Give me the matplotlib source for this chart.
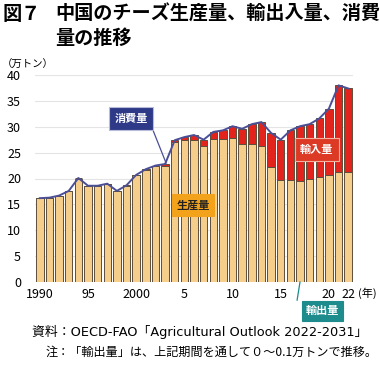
import matplotlib
matplotlib.use("Agg")
import matplotlib.pyplot as plt
import numpy as np

plt.rcParams['font.family'] = ['Noto Sans CJK JP', 'DejaVu Sans']

years = list(range(1990, 2023))
production = [16.2, 16.3, 16.7, 17.5, 20.0, 18.6, 18.6, 19.0, 17.6, 18.6,
              20.6, 21.7, 22.4, 22.4, 27.0, 27.4, 27.5, 26.2, 27.6, 27.6,
              27.9, 26.7, 26.6, 26.3, 22.3, 19.8, 19.7, 19.6, 19.9, 20.2,
              20.7, 21.2, 21.3]
imports = [0.0, 0.0, 0.0, 0.1, 0.1, 0.0, 0.0, 0.0, 0.0, 0.1,
           0.1, 0.1, 0.1, 0.4, 0.4, 0.6, 0.9, 1.3, 1.4, 1.7,
           2.2, 2.9, 3.9, 4.6, 6.5, 7.7, 9.6, 10.5, 10.6, 11.4,
           12.8, 16.8, 16.1]
consumption = [16.2, 16.3, 16.7, 17.6, 20.1, 18.6, 18.6, 19.0, 17.6, 18.7,
               20.7, 21.8, 22.5, 22.8, 27.4, 28.0, 28.4, 27.5, 29.0, 29.3,
               30.1, 29.6, 30.5, 30.9, 28.8, 27.5, 29.3, 30.1, 30.5, 31.6,
               33.5, 38.0, 37.4]
xtick_years = [1990, 1995, 2000, 2005, 2010, 2015, 2020, 2022]
xtick_labels = ["1990", "95", "2000", "5", "10", "15", "20", "22"]
yticks = [0, 5, 10, 15, 20, 25, 30, 35, 40]

W, H = 380, 366
fig = plt.figure(figsize=(W / 100, H / 100), dpi=100)
ax = fig.add_axes([35 / W, 1 - 282 / H, (353 - 35) / W, (282 - 75) / H])

x = np.arange(len(years))
tan = "#F6CE8C"
red = "#E3241C"
edge = "#5E4E3C"
ax.bar(x, production, width=0.78, color=tan, edgecolor=edge, linewidth=0.7, zorder=2)
ax.bar(x, imports, bottom=production, width=0.78, color=red, edgecolor=edge,
       linewidth=0.7, zorder=2)
ax.plot(x, consumption, color="#4B4F96", lw=1.4, zorder=3, solid_joinstyle='round')

ax.set_xlim(-0.5, len(years) - 0.5)
ax.set_ylim(0, 40)
ax.set_yticks(yticks)
ax.set_yticklabels([str(v) for v in yticks], fontsize=9)
ax.set_xticks([years.index(y) for y in xtick_years])
ax.set_xticklabels(xtick_labels, fontsize=9)
ax.tick_params(length=0, pad=4)
ax.tick_params(axis='y', pad=10)
for s in ax.spines.values():
    s.set_visible(False)
ax.grid(axis='y', color="#E4E4E4", lw=0.8, zorder=0)
ax.set_axisbelow(True)

# year unit label
ax.text(33.05, -2.2, "(年)", fontsize=8, ha='left', va='center', clip_on=False)

# annotation boxes
ax.text(9.46, 31.5, "消費量", fontsize=8, fontweight='bold', color='white',
        ha='center', va='center', zorder=5,
        bbox=dict(boxstyle='square,pad=0.45', fc="#2E3A87", ec="#B8BCD8", lw=0.8))
ax.plot([11.6, 13.1], [30.0, 23.0], color="#4B4F96", lw=0.9, zorder=4)

ax.text(28.75, 25.7, "輸入量", fontsize=8, fontweight='bold', color='white',
        ha='center', va='center', zorder=5,
        bbox=dict(boxstyle='square,pad=0.45', fc="#DD3A26", ec="#F2B0A0", lw=0.8))

ax.text(15.9, 14.9, "生産量", fontsize=8, fontweight='bold', color='#222222',
        ha='center', va='center', zorder=5,
        bbox=dict(boxstyle='square,pad=0.4', fc="#F2A31B", ec="#F2A31B", lw=0.8))

ax.plot([27.0, 26.7], [0, -3.5], color="#1E8B8C", lw=0.9, zorder=4, clip_on=False)
ax.text(29.3, -5.6, "輸出量", fontsize=8, fontweight='bold', color='white',
        ha='center', va='center', zorder=5, clip_on=False,
        bbox=dict(boxstyle='square,pad=0.35', fc="#1E8B8C", ec="#1E8B8C", lw=0.8))

# titles and notes
fig.text(3 / W, 1 - 14 / H, "図７", fontsize=13.8, fontweight='bold', ha='left', va='center')
fig.text(55 / W, 1 - 14 / H, "中国のチーズ生産量、輸出入量、消費", fontsize=13.8,
         fontweight='bold', ha='left', va='center')
fig.text(55 / W, 1 - 38 / H, "量の推移", fontsize=13.8, fontweight='bold',
         ha='left', va='center')
fig.text(2 / W, 1 - 65 / H, "（万トン）", fontsize=7.5, ha='left', va='center')
fig.text(32 / W, 1 - 332 / H, "資料：OECD-FAO「Agricultural Outlook 2022-2031」",
         fontsize=9.3, ha='left', va='center', family=['DejaVu Sans', 'Noto Sans CJK JP'])
fig.text(378 / W, 1 - 352 / H, "注：「輸出量」は、上記期間を通して０～0.1万トンで推移。",
         fontsize=8.7, ha='right', va='center')

fig.savefig("out.png", dpi=100)
